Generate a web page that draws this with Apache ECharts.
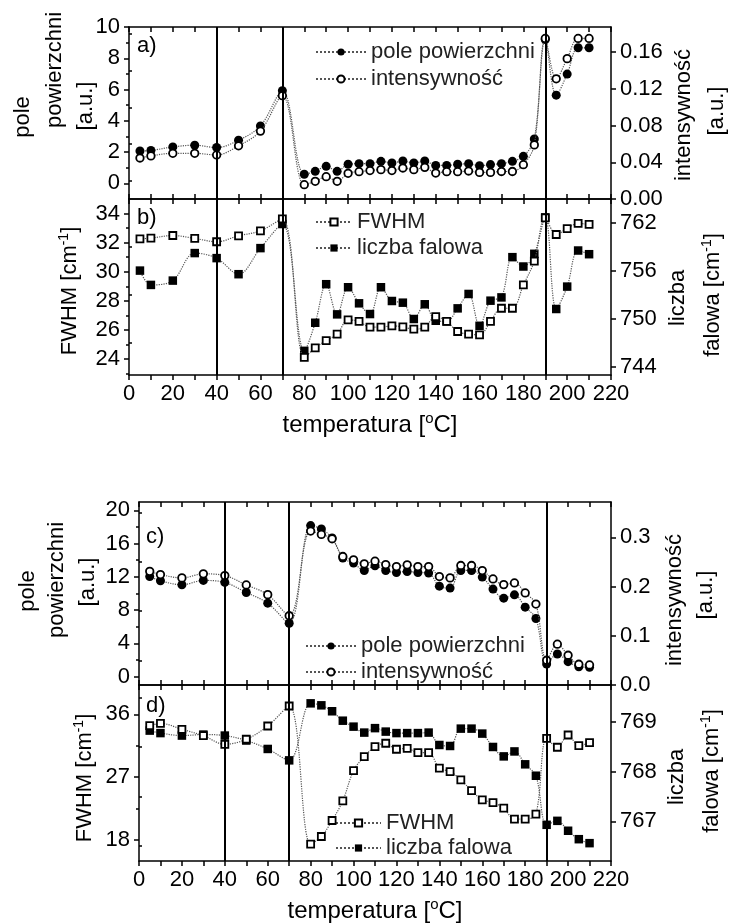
<!DOCTYPE html>
<html><head><meta charset="utf-8">
<script src="https://cdn.jsdelivr.net/npm/echarts/dist/echarts.min.js"></script>
<style>html,body{margin:0;padding:0;background:#fff}#c{width:729px;height:923px}</style>
</head><body><div id="c"></div>
<script>
// ---------- data ----------
const temps = [5,10,20,30,40,50,60,70,80,85,90,95,100,105,110,115,120,125,130,135,140,145,150,155,160,165,170,175,180,185,190,195,200,205,210];
// panel a)
const poleA = [2.07,2.1,2.33,2.44,2.29,2.76,3.67,5.92,0.58,0.77,1.09,0.77,1.22,1.26,1.26,1.41,1.3,1.43,1.3,1.43,1.15,1.15,1.22,1.26,1.13,1.2,1.26,1.41,1.73,2.84,9.2,5.64,6.99,8.67,8.67];
const intA = [0.0447,0.047,0.0498,0.0498,0.048,0.058,0.074,0.1126,0.0156,0.0193,0.0243,0.0193,0.028,0.0298,0.031,0.032,0.031,0.0338,0.032,0.0345,0.0283,0.0298,0.0298,0.0305,0.029,0.029,0.030,0.030,0.0374,0.059,0.175,0.131,0.153,0.175,0.175];
// panel b)
const fwhmB = [32.26,32.31,32.49,32.29,32.06,32.47,32.81,33.63,24.11,24.77,25.27,25.71,26.69,26.58,26.19,26.19,26.28,26.21,26.05,26.19,26.92,26.58,25.89,25.71,25.66,26.58,27.49,27.49,29.09,30.73,33.7,32.56,32.97,33.32,33.25];
const falaB = [756.05,754.26,754.8,758.24,757.61,755.6,758.86,761.87,746.02,749.53,754.35,750.58,753.97,751.96,750.62,753.97,752.25,752.04,750.0,751.84,749.78,749.7,751.33,753.13,749.15,752.29,752.7,757.73,756.56,758.15,762.7,751.25,754.05,758.56,758.1];
// panel c)
const poleC = [12.05,11.53,11.05,11.57,11.33,10.12,8.84,6.43,18.16,17.76,16.67,14.27,13.66,12.77,13.34,12.77,12.53,12.65,12.53,12.45,10.88,10.65,12.77,12.77,11.97,10.53,9.44,9.84,8.36,6.99,1.53,2.73,1.81,1.2,1.13];
const intC = [0.231,0.2245,0.2177,0.2259,0.2224,0.2034,0.1837,0.1408,0.3129,0.3061,0.2973,0.2612,0.2544,0.2463,0.2517,0.2449,0.2408,0.2442,0.2408,0.2408,0.2204,0.2177,0.2429,0.2429,0.2327,0.2156,0.2041,0.2075,0.1871,0.1646,0.0503,0.083,0.0605,0.0422,0.0408];
// panel d)
const fwhmD = [34.37,34.71,33.86,32.94,31.71,32.43,34.33,37.19,17.43,18.51,20.8,23.61,27.94,29.94,31.37,31.86,31.0,31.14,30.51,30.51,28.29,27.8,26.61,25.09,23.76,23.37,22.57,21.0,21.0,21.71,32.57,31.29,33.04,31.51,31.94];
const falaD = [768.83,768.78,768.73,768.75,768.73,768.63,768.46,768.23,769.38,769.34,769.22,769.03,768.91,768.79,768.88,768.81,768.78,768.78,768.78,768.79,768.54,768.52,768.87,768.87,768.77,768.5,768.31,768.41,768.15,767.92,766.93,767.01,766.81,766.64,766.56];
// transition temperatures (vertical lines)
const transitions = [40, 70, 190];
// ticks
const xTickVals = [0,10,20,30,40,50,60,70,80,90,100,110,120,130,140,150,160,170,180,190,200,210,220];
const xLabelVals = [0,20,40,60,80,100,120,140,160,180,200,220];
const aLeftTicks = [0,2,4,6,8,10], aLeftMinor = [1,3,5,7,9];
const aRightTicks = [0,0.04,0.08,0.12,0.16], aRightMinor = [0.02,0.06,0.10,0.14,0.18];
const bLeftTicks = [24,26,28,30,32,34], bLeftMinor = [23,25,27,29,31,33];
const bRightTicks = [744,750,756,762], bRightMinor = [747,753,759];
const cLeftTicks = [0,4,8,12,16,20], cLeftMinor = [2,6,10,14,18];
const cRightTicks = [0,0.1,0.2,0.3], cRightMinor = [0.05,0.15,0.25,0.35];
const dLeftTicks = [18,27,36], dLeftMinor = [22.5,31.5];
const dRightTicks = [767,768,769], dRightMinor = [766.5,767.5,768.5,769.5];

// ---------- chart ----------
const FONT = '"Liberation Sans", Arial, Helvetica, sans-serif';
const LS = {color:'#000', width:1.5};
const grids = [
  {left:129, right:118, top:27, height:172},
  {left:129, right:118, top:199, height:176},
  {left:139, right:118, top:502, height:183},
  {left:139, right:118, top:685, height:176}
];
const xAxes = [];
grids.forEach((g,i)=>{
  const labelled = (i===1 || i===3);
  xAxes.push({type:'value', gridIndex:i, position:'bottom', min:0, max:220,
    axisLine:{show:true, onZero:false, lineStyle:LS},
    axisTick:{show:true, inside:!labelled, length:5, customValues:xTickVals, lineStyle:LS},
    axisLabel:{show:labelled, customValues:xLabelVals, fontSize:22, color:'#000', fontFamily:FONT, margin:8},
    splitLine:{show:false}});
  xAxes.push({type:'value', gridIndex:i, position:'top', min:0, max:220,
    axisLine:{show:true, onZero:false, lineStyle:LS},
    axisTick:{show:true, inside:true, length:5, customValues:xTickVals, lineStyle:LS},
    axisLabel:{show:false}, splitLine:{show:false}});
});
function yPair(gi, pos, min, max, majors, minors, fmt){
  const base = {type:'value', gridIndex:gi, position:pos, min:min, max:max, splitLine:{show:false}};
  return [
    Object.assign({}, base, {
      axisLine:{show:true, onZero:false, lineStyle:LS},
      axisTick:{show:true, length:5, customValues:majors, lineStyle:LS},
      axisLabel:{customValues:majors, formatter:fmt, fontSize:22, color:'#000', fontFamily:FONT, margin:9}}),
    Object.assign({}, base, {
      axisLine:{show:false},
      axisTick:{show:true, length:3, customValues:minors, lineStyle:LS},
      axisLabel:{show:false}})
  ];
}
const f0 = v => String(v);
const f2 = v => v.toFixed(2);
const f1 = v => v.toFixed(1);
const yAxes = [].concat(
  yPair(0,'left',-1,10,aLeftTicks,aLeftMinor,f0), yPair(0,'right',0,0.1875,aRightTicks,aRightMinor,f2),
  yPair(1,'left',22.9,35,bLeftTicks,bLeftMinor,f0), yPair(1,'right',743,765,bRightTicks,bRightMinor,f0),
  yPair(2,'left',-1,21,cLeftTicks,cLeftMinor,f0), yPair(2,'right',0,0.372,cRightTicks,cRightMinor,f1),
  yPair(3,'left',15,40.2,dLeftTicks,dLeftMinor,f0), yPair(3,'right',766.2,769.75,dRightTicks,dRightMinor,f0)
);
function mk(name, vals, gi, side, shape, filled, vlines){
  const s = {type:'line', name:name, xAxisIndex:gi*2, yAxisIndex:gi*4 + (side==='left'?0:2),
    data: temps.map((t,i)=>[t, vals[i]]),
    symbol: shape,
    symbolSize: shape==='circle' ? (filled ? 9 : 7.5) : (filled ? 8.5 : 7),
    smooth: 0.35,
    lineStyle:{color:'#555', width:1.2, type:'dotted'},
    itemStyle:{color: filled ? '#000' : '#fff', borderColor:'#000', borderWidth: filled ? 0 : 1.8},
    emphasis:{disabled:true}, z: filled ? 3 : 4};
  if (vlines) {
    s.markLine = {silent:true, symbol:['none','none'], label:{show:false},
      lineStyle:{color:'#000', width:2, type:'solid'}, emphasis:{disabled:true},
      data: transitions.map(t => ({xAxis:t}))};
  }
  return s;
}
const series = [
  mk('pole powierzchni', poleA, 0, 'left', 'circle', true, true),
  mk('intensywność', intA, 0, 'right', 'circle', false, false),
  mk('FWHM', fwhmB, 1, 'left', 'rect', false, true),
  mk('liczba falowa', falaB, 1, 'right', 'rect', true, false),
  mk('pole powierzchni', poleC, 2, 'left', 'circle', true, true),
  mk('intensywność', intC, 2, 'right', 'circle', false, false),
  mk('FWHM', fwhmD, 3, 'left', 'rect', false, true),
  mk('liczba falowa', falaD, 3, 'right', 'rect', true, false)
];
function lg(names, left, top, w, gap){
  return {data:names, left:left, top:top, orient:'vertical', padding:0, itemWidth:w, itemHeight:9, itemGap:gap,
    selectedMode:false, textStyle:{fontSize:22, fontFamily:FONT, color:'#222', lineHeight:24}};
}
const legends = [
  lg(['pole powierzchni','intensywność'], 315, 40, 50, 3),
  lg(['FWHM','liczba falowa'], 315, 210, 36, 2),
  lg(['pole powierzchni','intensywność'], 305, 634, 50, 2),
  lg(['FWHM','liczba falowa'], 335, 811, 45, 1)
];
const rich = {n:{fontSize:22, fontFamily:FONT, fill:'#000', color:'#000', lineHeight:26},
              s:{fontSize:14, fontFamily:FONT, fill:'#000', color:'#000', verticalAlign:'top'},
              N:{fontSize:24, fontFamily:FONT, fill:'#000', color:'#000', lineHeight:28},
              S:{fontSize:15, fontFamily:FONT, fill:'#000', color:'#000', verticalAlign:'top'}};
function txt(text, x, y, rot, size, isRich){
  const st = {text:text, font:(size||22)+'px '+FONT, fill:'#000',
    textAlign:'center', align:'center', textVerticalAlign:'middle', verticalAlign:'middle'};
  if (isRich) st.rich = rich;
  return {type:'text', x:x, y:y, rotation: rot ? Math.PI/2 : 0, silent:true, style:st};
}
function lab(text, x, y){
  return {type:'text', x:x, y:y, silent:true, style:{text:text, font:'22px '+FONT, fill:'#000',
    textAlign:'left', align:'left', textVerticalAlign:'middle', verticalAlign:'middle'}};
}
const graphics = [
  lab('a)', 137, 46), lab('b)', 137, 218), lab('c)', 146, 537), lab('d)', 146, 706),
  txt('pole', 23, 117, true), txt('powierzchni', 55, 70, true), txt('[a.u.]', 86, 106, true),
  txt('{n|FWHM [cm}{s|-1}{n|]}', 70, 291, true, 22, true),
  txt('intensywność', 684, 115, true), txt('[a.u.]', 717, 111, true),
  txt('liczba', 678, 298, true), txt('{n|falowa [cm}{s|-1}{n|]}', 713, 295, true, 22, true),
  txt('{N|temperatura [}{S|o}{N|C]}', 370, 425, false, 24, true),
  txt('pole', 28, 591, true), txt('powierzchni', 57, 580, true), txt('[a.u.]', 88, 582, true),
  txt('{n|FWHM [cm}{s|-1}{n|]}', 85, 778, true, 22, true),
  txt('intensywność', 675, 600, true), txt('[a.u.]', 706, 595, true),
  txt('liczba', 677, 777, true), txt('{n|falowa [cm}{s|-1}{n|]}', 712, 771, true, 22, true),
  txt('{N|temperatura [}{S|o}{N|C]}', 375, 911, false, 24, true)
];
const chart = echarts.init(document.getElementById('c'), null, {renderer:'canvas'});
chart.setOption({
  animation:false, backgroundColor:'#fff',
  textStyle:{fontFamily:FONT},
  grid: grids, xAxis: xAxes, yAxis: yAxes, series: series, legend: legends, graphic: graphics
});
</script></body></html>
